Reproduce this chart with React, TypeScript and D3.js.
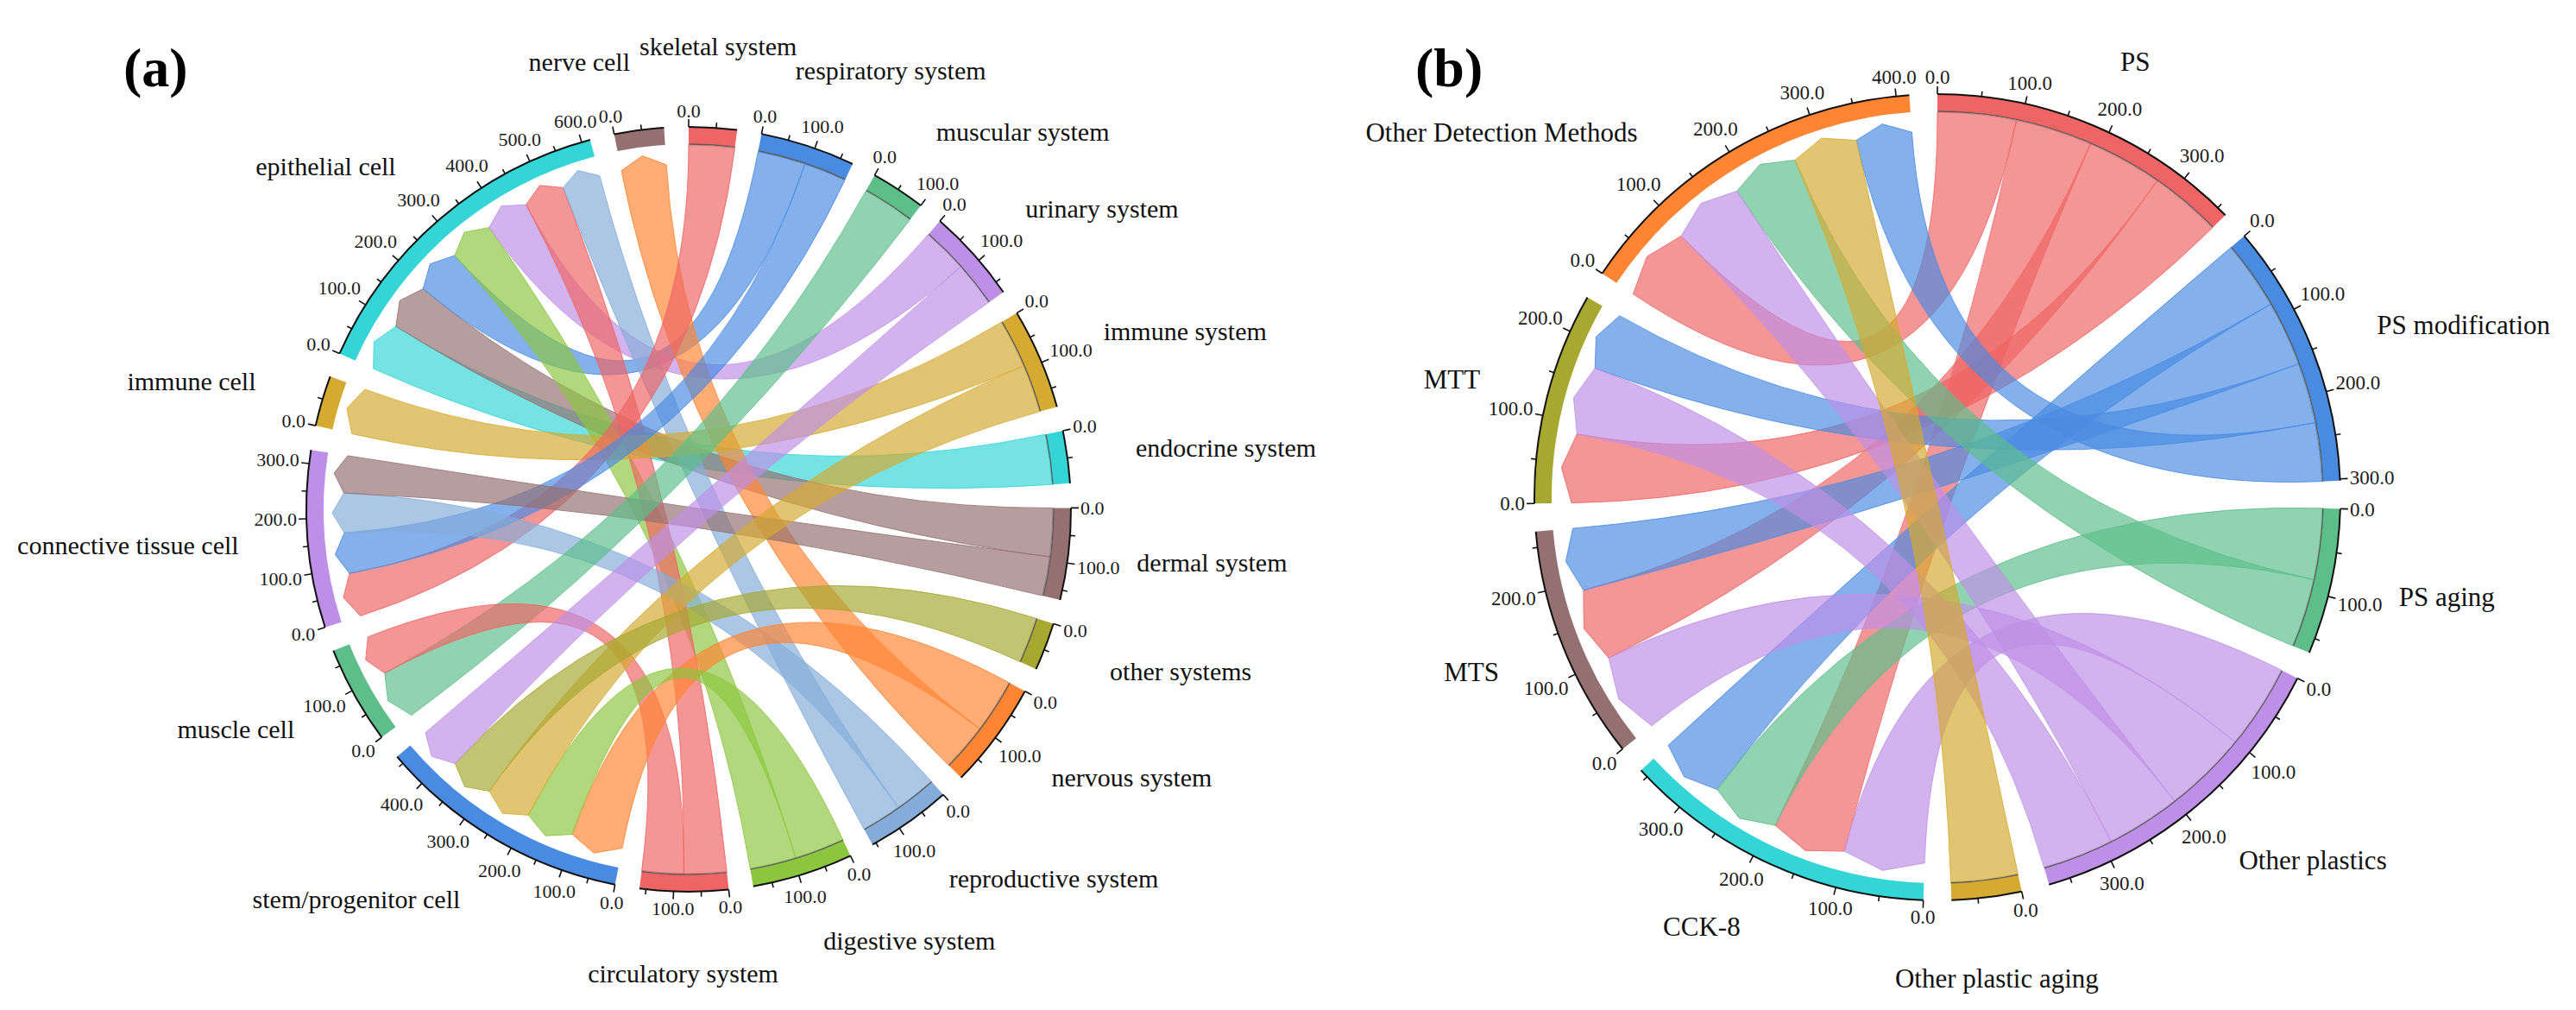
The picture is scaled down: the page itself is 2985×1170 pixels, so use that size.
import React, { useEffect, useRef } from 'react';
import * as d3 from 'd3';

// Origin-style categorical palette, it cycles every 11 groups
const palette = ['#EF6464', '#4A8BE2', '#5DBE8A', '#BE8FE6', '#D4AA30', '#33D5D6', '#957070', '#A6A830', '#FF8533', '#85ACD9', '#8CC63F'];

// (a) organ systems (ribbon sources) then cell types (arrow ends), clockwise from 12 o'clock
const systemsA = ['skeletal system', 'respiratory system', 'muscular system', 'urinary system', 'immune system', 'endocrine system', 'dermal system', 'other systems', 'nervous system', 'reproductive system', 'digestive system', 'circulatory system'];
const cellsA = ['stem/progenitor cell', 'muscle cell', 'connective tissue cell', 'immune cell', 'epithelial cell', 'nerve cell'];
const linksA: [string, string, number][] = [
  ['endocrine system', 'epithelial cell', 96],
  ['dermal system', 'epithelial cell', 93],
  ['respiratory system', 'epithelial cell', 92],
  ['digestive system', 'epithelial cell', 89],
  ['urinary system', 'epithelial cell', 87],
  ['circulatory system', 'epithelial cell', 82],
  ['reproductive system', 'epithelial cell', 77],
  ['nervous system', 'nerve cell', 91],
  ['immune system', 'immune cell', 93],
  ['skeletal system', 'connective tissue cell', 88],
  ['respiratory system', 'connective tissue cell', 82],
  ['reproductive system', 'connective tissue cell', 80],
  ['dermal system', 'connective tissue cell', 75],
  ['muscular system', 'muscle cell', 100],
  ['circulatory system', 'muscle cell', 80],
  ['nervous system', 'stem/progenitor cell', 104],
  ['digestive system', 'stem/progenitor cell', 96],
  ['immune system', 'stem/progenitor cell', 92],
  ['other systems', 'stem/progenitor cell', 88],
  ['urinary system', 'stem/progenitor cell', 86]
];

// (b) plastics (ribbon sources) then detection methods (arrow ends)
const materialsB = ['PS', 'PS modification', 'PS aging', 'Other plastics', 'Other plastic aging'];
const methodsB = ['CCK-8', 'MTS', 'MTT', 'Other Detection Methods'];
const linksB: [string, string, number][] = [
  ['PS', 'Other Detection Methods', 94],
  ['PS', 'CCK-8', 92],
  ['PS', 'MTS', 90],
  ['PS', 'MTT', 86],
  ['PS modification', 'CCK-8', 82],
  ['PS modification', 'MTS', 78],
  ['PS modification', 'MTT', 72],
  ['PS modification', 'Other Detection Methods', 70],
  ['PS aging', 'CCK-8', 85],
  ['PS aging', 'Other Detection Methods', 82],
  ['Other plastics', 'CCK-8', 101],
  ['Other plastics', 'MTS', 100],
  ['Other plastics', 'Other Detection Methods', 89],
  ['Other plastics', 'MTT', 85],
  ['Other plastic aging', 'Other Detection Methods', 80]
];

const FONT = '"Liberation Serif", "Times New Roman", serif';

interface ChordConfig {
  sources: string[];
  targets: string[];
  links: [string, string, number][];
  cx: number;
  cy: number;
  radius: number;
  gapDeg: number;
  tag: string;
  tagX: number;
  tickFont: number;
  labelFont: number;
  labelNudge?: Record<string, number>; // degrees, hand-moved labels
  labelCenter?: string[];
}

function drawChord(root: any, cfg: ChordConfig) {
  const { sources, targets, links, cx, cy, radius } = cfg;
  const names = [...sources, ...targets];
  const thick = 20;
  const inner = radius - thick;
  const totals = names.map(n => d3.sum(links, l => (l[0] === n || l[1] === n ? l[2] : 0)));
  const gap = (cfg.gapDeg * Math.PI) / 180;
  const unit = (2 * Math.PI - gap * names.length) / d3.sum(totals);

  let cursor = 0;
  const groups = names.map((name, i) => {
    const start = cursor;
    const end = start + totals[i] * unit;
    cursor = end + gap;
    return {
      name,
      total: totals[i],
      start,
      end,
      color: palette[i % palette.length],
      isSource: i < sources.length,
      angle: d3.scaleLinear().domain([0, totals[i]]).range([start, end])
    };
  });
  const byName = new Map(groups.map(g => [g.name, g]));

  // each group stacks its links largest first, clockwise from its 0.0 tick
  const ends: any[] = links.map(() => ({}));
  groups.forEach(g => {
    const mine = links.map((l, j) => ({ l, j })).filter(d => d.l[0] === g.name || d.l[1] === g.name);
    mine.sort((a, b) => b.l[2] - a.l[2]);
    let acc = 0;
    mine.forEach(({ l, j }) => {
      const isSrc = l[0] === g.name;
      ends[j][isSrc ? 'source' : 'target'] = {
        startAngle: g.angle(acc),
        endAngle: g.angle(acc + l[2]),
        radius: isSrc ? inner - 1 : inner - 10
      };
      acc += l[2];
    });
  });

  const g = root.append('g').attr('transform', `translate(${cx},${cy})`);

  const ribbon = d3.ribbonArrow().headRadius(13);
  g.append('g')
    .selectAll('path')
    .data(links)
    .join('path')
    .attr('d', (_l: any, j: number) => ribbon({ source: ends[j].source, target: ends[j].target } as any))
    .attr('fill', (l: any) => byName.get(l[0])!.color)
    .attr('fill-opacity', 0.68)
    .attr('stroke', (l: any) => byName.get(l[0])!.color)
    .attr('stroke-opacity', 0.85)
    .attr('stroke-width', 1);

  const arc = d3.arc().innerRadius(inner).outerRadius(radius);
  const gg = g.append('g').selectAll('g').data(groups).join('g');
  gg.append('path')
    .attr('d', (d: any) => arc({ startAngle: d.start, endAngle: d.end } as any))
    .attr('fill', (d: any) => d.color);

  // thin grey rim where the source ribbons attach
  gg.filter((d: any) => d.isSource)
    .append('path')
    .attr('d', (d: any) => {
      const p = d3.path();
      p.arc(0, 0, inner, d.start - Math.PI / 2, d.end - Math.PI / 2);
      return p.toString();
    })
    .attr('fill', 'none')
    .attr('stroke', '#5a5a5a')
    .attr('stroke-width', 1.4);

  // axis line on the outer edge
  gg.append('path')
    .attr('d', (d: any) => {
      const p = d3.path();
      p.arc(0, 0, radius, d.start - Math.PI / 2, d.end - Math.PI / 2);
      return p.toString();
    })
    .attr('fill', 'none')
    .attr('stroke', '#111')
    .attr('stroke-width', 2);

  const ticks = groups.flatMap(d => d3.range(0, d.total + 1e-6, 50).map(v => ({ v, a: d.angle(v) })));
  g.append('g')
    .selectAll('line')
    .data(ticks)
    .join('line')
    .attr('x1', (d: any) => radius * Math.sin(d.a))
    .attr('y1', (d: any) => -radius * Math.cos(d.a))
    .attr('x2', (d: any) => (radius + (d.v % 100 === 0 ? 9 : 6)) * Math.sin(d.a))
    .attr('y2', (d: any) => -(radius + (d.v % 100 === 0 ? 9 : 6)) * Math.cos(d.a))
    .attr('stroke', '#111')
    .attr('stroke-width', 1.6);

  // tick values: horizontal, pushed outward by half their box
  g.append('g')
    .selectAll('text')
    .data(ticks.filter(d => d.v % 100 === 0))
    .join('text')
    .attr('text-anchor', 'middle')
    .attr('dominant-baseline', 'central')
    .attr('font-family', FONT)
    .attr('font-size', cfg.tickFont)
    .attr('fill', '#1a1a1a')
    .text((d: any) => d.v.toFixed(1))
    .each(function (this: any, d: any) {
      const w = this.getComputedTextLength();
      const s = Math.sin(d.a), c = Math.cos(d.a);
      const off = radius + 11 + (Math.abs(s) * w) / 2 + (Math.abs(c) * cfg.tickFont * 0.7) / 2;
      d3.select(this).attr('x', off * s).attr('y', -off * c);
    });

  // group names: anchored at the mid angle, reading away from the circle
  const nudge = cfg.labelNudge || {};
  const centred = cfg.labelCenter || [];
  g.append('g')
    .selectAll('text')
    .data(groups.map(d => ({ name: d.name, a: (d.start + d.end) / 2 + ((nudge[d.name] || 0) * Math.PI) / 180 })))
    .join('text')
    .attr('dominant-baseline', 'central')
    .attr('font-family', FONT)
    .attr('font-size', cfg.labelFont)
    .attr('fill', '#111')
    .text((d: any) => d.name)
    .each(function (this: any, d: any) {
      const s = Math.sin(d.a), c = Math.cos(d.a);
      const mid = Math.abs(s) < 0.1 || centred.includes(d.name);
      const r = radius + 80 + (mid ? 15 : 0);
      d3.select(this)
        .attr('text-anchor', mid ? 'middle' : s > 0 ? 'start' : 'end')
        .attr('x', r * s)
        .attr('y', -r * c);
    });

  root.append('text')
    .attr('x', cfg.tagX)
    .attr('y', 100)
    .attr('font-family', FONT)
    .attr('font-size', 64)
    .attr('font-weight', 'bold')
    .attr('fill', '#000')
    .text(cfg.tag);
}

const App: React.FC = () => {
  const svgRef = useRef<SVGSVGElement>(null);

  useEffect(() => {
    if (!svgRef.current) return;
    const root = d3.select(svgRef.current);
    root.selectAll('*').remove();
    drawChord(root, {
      sources: systemsA,
      targets: cellsA,
      links: linksA,
      cx: 798,
      cy: 590,
      radius: 443,
      gapDeg: 3.7,
      tag: '(a)',
      tagX: 143,
      tickFont: 22,
      labelFont: 30,
      labelNudge: { 'respiratory system': -4.5 }
    });
    drawChord(root, {
      sources: materialsB,
      targets: methodsB,
      links: linksB,
      cx: 2245,
      cy: 576,
      radius: 467,
      gapDeg: 4,
      tag: '(b)',
      tagX: 1640,
      tickFont: 23,
      labelFont: 31,
      labelNudge: { 'Other Detection Methods': -9.3 },
      labelCenter: ['Other plastic aging']
    });
  }, []);

  return (
    <svg
      ref={svgRef}
      width={2985}
      height={1170}
      style={{ position: 'absolute', left: 0, top: 0, background: '#fff' }}
    />
  );
};

export default App;
